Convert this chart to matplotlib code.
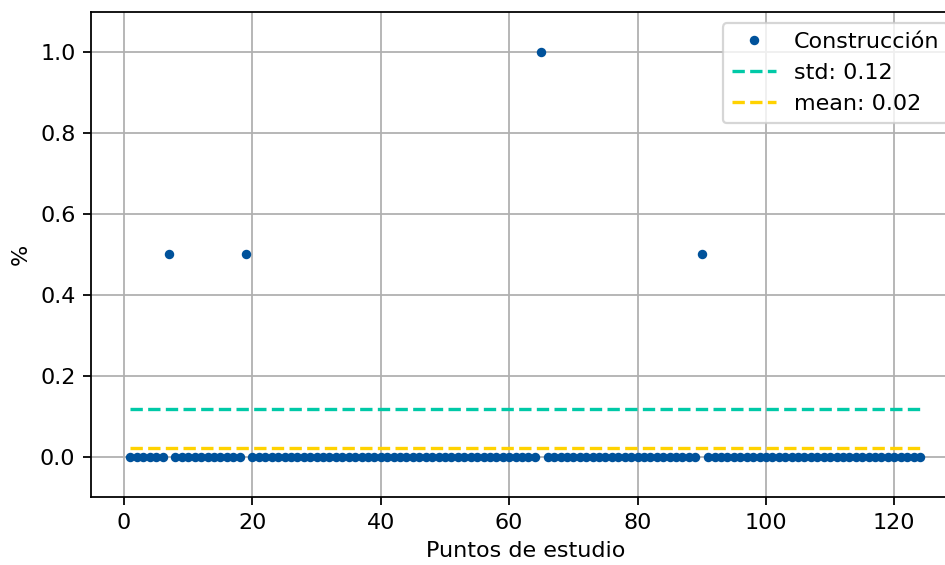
import numpy as np
import matplotlib.pyplot as plt

n_points = 124
outlier_x = [7, 19, 65, 90]
outlier_y = [0.5, 0.5, 1.0, 0.5]

puntos = np.arange(1, n_points + 1)
construccion = np.zeros(n_points)
for xi, yi in zip(outlier_x, outlier_y):
    construccion[xi - 1] = yi

std = construccion.std()
mean = construccion.mean()

dpi = 160
fig = plt.figure(figsize=(945 / dpi, 565 / dpi), dpi=dpi)
# the original image was cropped on the right, so the axes run past the edge
ax = fig.add_axes([0.0963, 0.1204, 0.919, 0.8584])

ax.plot(puntos, construccion, '.', color='#00529b', markersize=6.5, label='Construcción')
ax.plot(puntos, np.full(n_points, std), '--', color='#00c9a7', label=f'std: {std:.2f}')
ax.plot(puntos, np.full(n_points, mean), '--', color='#ffd200', label=f'mean: {mean:.2f}')

ax.set_ylim(-0.1, 1.1)
ax.set_xlabel('Puntos de estudio')
ax.set_ylabel('%')
ax.grid(True)
ax.legend(loc='upper right')

fig.savefig('out.png', dpi=dpi)
